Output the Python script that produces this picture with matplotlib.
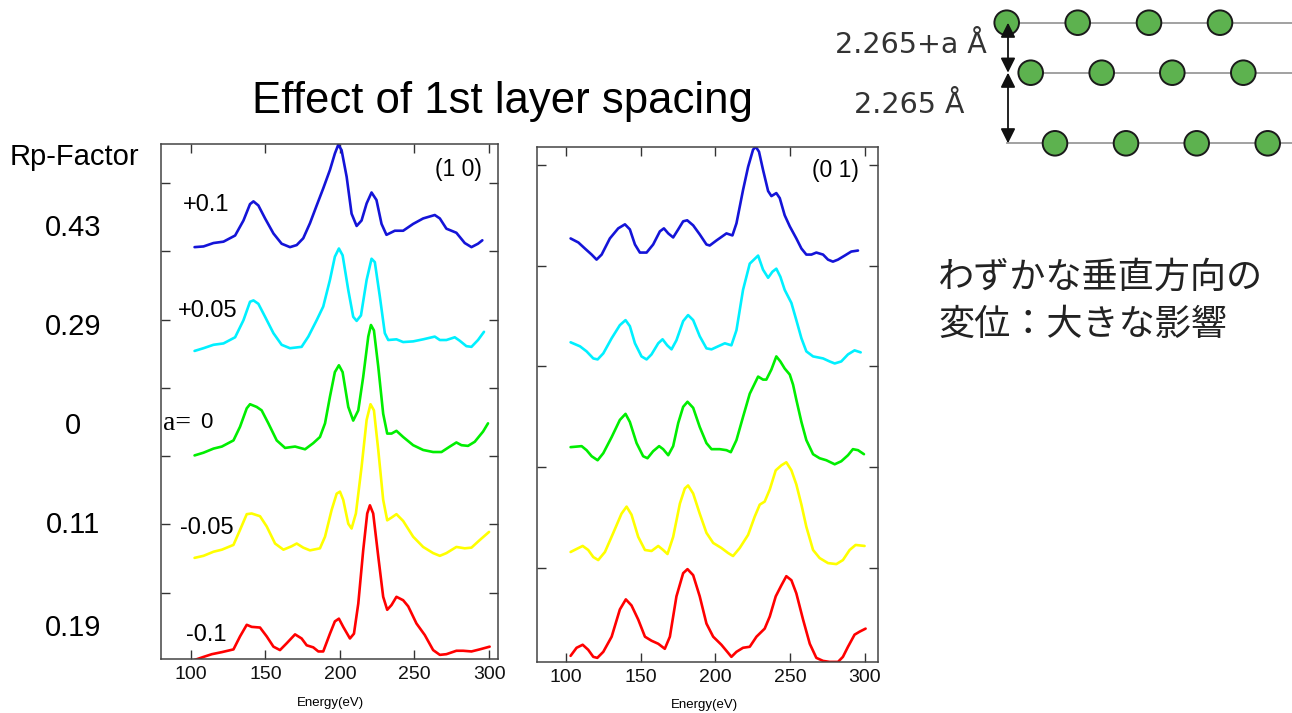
import matplotlib
matplotlib.use("Agg")
import matplotlib.pyplot as plt
from matplotlib.patches import Circle

plt.rcParams["font.family"] = ["Liberation Sans", "Noto Sans CJK JP", "DejaVu Sans"]

W, H = 1292, 713

# ---- data: LEED I(V) curves, energies (eV) and offset intensities (arb.) ----
labels = ["+0.1", "+0.05", "a=0", "-0.05", "-0.1"]
rp_factors = ["0.43", "0.29", "0", "0.11", "0.19"]
colors = ["#1414D8", "#00F0FF", "#00EE00", "#FFFF00", "#FF0000"]
energy_ticks = [100, 150, 200, 250, 300]

# (1 0) beam
e10_p010 = [102.5, 108.5, 115.2, 121.9, 129.7, 135.3, 139.7, 142.0, 145.3, 149.8, 155.4, 160.9, 166.5,
            171.0, 175.4, 179.9, 184.4, 188.8, 193.3, 196.6, 198.9, 201.1, 204.5, 207.8, 211.2, 214.5,
            217.9, 221.2, 224.5, 227.9, 231.2, 236.8, 242.4, 249.1, 255.8, 263.6, 267.0, 271.4, 274.8,
            278.1, 283.7, 288.2, 292.6, 295.5]
i10_p010 = [6.06, 6.07, 6.12, 6.14, 6.23, 6.45, 6.69, 6.73, 6.67, 6.48, 6.26, 6.11, 6.06, 6.09, 6.19,
            6.41, 6.67, 6.92, 7.19, 7.43, 7.56, 7.48, 7.09, 6.55, 6.37, 6.45, 6.70, 6.86, 6.75, 6.40,
            6.24, 6.30, 6.30, 6.40, 6.48, 6.53, 6.48, 6.33, 6.30, 6.27, 6.12, 6.06, 6.11, 6.16]
e10_p005 = [102.5, 108.5, 115.2, 121.9, 129.7, 135.3, 139.7, 142.0, 145.3, 149.8, 155.4, 160.9, 166.5,
            174.3, 178.8, 184.4, 188.8, 193.3, 196.6, 199.3, 201.8, 205.6, 208.9, 211.2, 214.1, 217.9,
            221.2, 223.4, 226.8, 230.1, 232.4, 237.9, 242.4, 249.1, 255.8, 263.6, 267.0, 271.4, 277.0,
            280.3, 284.8, 288.2, 292.6, 296.6]
i10_p005 = [4.54, 4.58, 4.63, 4.65, 4.74, 4.99, 5.26, 5.28, 5.23, 5.04, 4.80, 4.63, 4.58, 4.60, 4.75,
            4.99, 5.19, 5.58, 5.92, 6.04, 5.94, 5.43, 5.04, 4.98, 5.06, 5.58, 5.89, 5.84, 5.33, 4.80,
            4.70, 4.71, 4.67, 4.68, 4.71, 4.75, 4.70, 4.70, 4.74, 4.69, 4.61, 4.60, 4.70, 4.82]
e10_zero = [102.5, 108.5, 115.2, 120.8, 128.6, 133.0, 137.5, 139.7, 144.2, 147.5, 152.0, 157.6, 163.2,
            169.9, 176.6, 182.1, 186.6, 190.0, 193.3, 196.6, 199.3, 201.8, 205.6, 208.9, 212.3, 215.6,
            219.0, 220.8, 222.8, 225.7, 229.0, 231.7, 234.6, 237.9, 242.4, 249.1, 255.8, 262.5, 268.1,
            273.7, 278.1, 281.5, 285.9, 290.4, 296.0, 299.3]
i10_zero = [3.01, 3.05, 3.11, 3.14, 3.23, 3.43, 3.70, 3.76, 3.72, 3.67, 3.48, 3.23, 3.12, 3.14, 3.10,
            3.19, 3.28, 3.48, 3.87, 4.23, 4.33, 4.23, 3.72, 3.52, 3.67, 4.16, 4.75, 4.92, 4.84, 4.31,
            3.62, 3.33, 3.33, 3.37, 3.28, 3.16, 3.09, 3.06, 3.06, 3.14, 3.20, 3.16, 3.15, 3.21, 3.36, 3.48]
e10_m005 = [102.5, 108.5, 115.2, 120.8, 128.6, 133.0, 137.5, 140.8, 146.4, 150.9, 156.5, 162.1, 167.6,
            171.0, 175.4, 179.9, 186.6, 190.0, 194.4, 197.8, 200.0, 202.2, 205.6, 207.8, 210.7, 214.5,
            217.9, 220.5, 222.8, 225.7, 229.0, 231.7, 234.6, 237.9, 242.4, 249.1, 255.8, 262.5, 267.0,
            271.4, 278.1, 283.7, 288.2, 293.7, 300.0]
i10_m005 = [1.51, 1.54, 1.60, 1.63, 1.70, 1.92, 2.15, 2.16, 2.12, 1.97, 1.72, 1.63, 1.68, 1.72, 1.66,
            1.62, 1.65, 1.82, 2.21, 2.45, 2.48, 2.36, 2.01, 1.94, 2.16, 2.84, 3.53, 3.76, 3.67, 3.09,
            2.36, 2.06, 2.10, 2.15, 2.05, 1.82, 1.67, 1.58, 1.54, 1.58, 1.67, 1.65, 1.66, 1.77, 1.89]
e10_m010 = [102.5, 108.5, 114.1, 120.8, 128.6, 133.0, 137.5, 140.8, 146.4, 150.9, 155.4, 159.8, 164.3,
            169.9, 174.3, 177.7, 182.1, 185.5, 188.8, 193.3, 196.6, 199.3, 202.2, 206.7, 209.4, 212.3,
            215.6, 218.3, 220.1, 222.3, 225.7, 229.0, 231.7, 234.6, 237.9, 242.4, 245.8, 251.3, 256.9,
            262.5, 267.0, 271.4, 278.1, 282.6, 288.2, 293.7, 300.4]
i10_m010 = [0.015, 0.06, 0.10, 0.13, 0.17, 0.36, 0.53, 0.50, 0.49, 0.36, 0.21, 0.16, 0.26, 0.39, 0.33,
            0.23, 0.20, 0.14, 0.14, 0.40, 0.58, 0.62, 0.50, 0.33, 0.40, 0.84, 1.62, 2.16, 2.28, 2.16,
            1.53, 0.94, 0.75, 0.82, 0.94, 0.89, 0.80, 0.55, 0.38, 0.16, 0.09, 0.10, 0.15, 0.15, 0.14,
            0.17, 0.21]

# (0 1) beam
e01_p010 = [103.1, 108.3, 112.7, 117.2, 120.5, 123.9, 129.4, 135.0, 139.5, 142.8, 146.2, 149.5, 154.0,
            158.4, 162.9, 165.6, 168.5, 171.8, 175.2, 178.5, 181.2, 185.2, 189.6, 194.1, 196.3, 200.8,
            207.5, 211.5, 214.2, 218.6, 222.0, 225.3, 227.1, 229.3, 232.0, 235.4, 237.6, 240.9, 243.2,
            246.5, 249.9, 254.3, 257.7, 261.0, 264.4, 267.7, 272.2, 275.5, 278.8, 282.2, 286.7, 291.1,
            295.6]
i01_p010 = [4.27, 4.23, 4.17, 4.11, 4.06, 4.11, 4.27, 4.37, 4.41, 4.36, 4.21, 4.13, 4.13, 4.21, 4.34,
            4.37, 4.32, 4.28, 4.36, 4.44, 4.45, 4.40, 4.31, 4.21, 4.20, 4.25, 4.32, 4.30, 4.42, 4.75,
            4.98, 5.15, 5.18, 5.13, 4.95, 4.74, 4.69, 4.72, 4.67, 4.50, 4.39, 4.27, 4.17, 4.11, 4.11,
            4.13, 4.11, 4.06, 4.04, 4.06, 4.10, 4.14, 4.15]
e01_p005 = [103.1, 109.4, 113.8, 118.3, 121.2, 125.0, 130.6, 136.1, 139.9, 142.8, 146.2, 150.6, 154.0,
            157.3, 161.8, 164.7, 167.8, 170.7, 174.0, 178.5, 181.8, 185.2, 189.6, 194.1, 197.5, 201.9,
            206.4, 210.8, 214.2, 218.6, 223.1, 228.7, 232.0, 235.4, 238.3, 240.9, 243.6, 246.5, 251.0,
            254.3, 257.7, 261.0, 265.5, 272.2, 276.6, 280.0, 284.4, 288.9, 293.3, 297.4]
i01_p005 = [3.24, 3.20, 3.15, 3.08, 3.07, 3.13, 3.28, 3.41, 3.46, 3.40, 3.23, 3.10, 3.07, 3.12, 3.23,
            3.27, 3.21, 3.17, 3.26, 3.45, 3.51, 3.46, 3.30, 3.18, 3.17, 3.20, 3.23, 3.21, 3.36, 3.76,
            4.02, 4.10, 3.96, 3.88, 3.94, 3.97, 3.89, 3.76, 3.63, 3.46, 3.28, 3.15, 3.10, 3.08, 3.05,
            3.03, 3.05, 3.12, 3.16, 3.14]
e01_zero = [103.1, 110.5, 113.8, 117.2, 121.2, 125.0, 130.6, 136.1, 139.9, 142.8, 147.3, 151.7, 154.6,
            158.4, 162.4, 165.1, 168.5, 171.8, 175.2, 178.5, 181.4, 185.2, 189.6, 194.1, 197.5, 203.0,
            207.5, 210.4, 214.2, 218.6, 223.1, 228.7, 232.0, 234.2, 237.6, 240.9, 243.6, 246.5, 249.9,
            252.1, 254.3, 257.7, 261.0, 265.5, 269.9, 274.4, 280.0, 284.4, 288.9, 292.2, 295.6, 299.6]
i01_zero = [2.20, 2.21, 2.17, 2.11, 2.07, 2.14, 2.30, 2.47, 2.53, 2.45, 2.24, 2.11, 2.09, 2.16, 2.21,
            2.18, 2.12, 2.21, 2.44, 2.60, 2.65, 2.59, 2.40, 2.24, 2.18, 2.18, 2.17, 2.15, 2.27, 2.50,
            2.73, 2.90, 2.87, 2.87, 2.97, 3.10, 3.05, 2.98, 2.92, 2.82, 2.67, 2.45, 2.27, 2.13, 2.09,
            2.07, 2.03, 2.06, 2.12, 2.18, 2.17, 2.13]
e01_m005 = [103.1, 107.1, 111.2, 114.9, 118.3, 121.6, 126.1, 131.7, 137.2, 140.6, 143.9, 148.4, 152.9,
            157.3, 161.8, 165.1, 168.0, 171.8, 176.3, 179.6, 181.8, 185.2, 189.6, 194.1, 198.6, 204.1,
            208.6, 211.9, 216.4, 222.0, 226.4, 229.8, 233.1, 236.5, 240.5, 244.3, 247.6, 251.0, 254.3,
            257.7, 261.0, 265.5, 269.9, 275.5, 281.1, 285.5, 290.0, 294.0, 300.0]
i01_m005 = [1.16, 1.19, 1.22, 1.18, 1.11, 1.08, 1.16, 1.35, 1.54, 1.61, 1.53, 1.31, 1.18, 1.17, 1.22,
            1.18, 1.14, 1.31, 1.64, 1.79, 1.82, 1.74, 1.54, 1.35, 1.25, 1.20, 1.15, 1.12, 1.20, 1.33,
            1.51, 1.63, 1.66, 1.78, 1.97, 2.02, 2.05, 1.97, 1.83, 1.63, 1.41, 1.18, 1.10, 1.05, 1.04,
            1.08, 1.18, 1.23, 1.22]
e01_m010 = [103.1, 107.1, 111.2, 114.9, 118.3, 121.0, 125.0, 130.6, 136.1, 140.1, 143.9, 148.4, 152.9,
            157.3, 161.8, 166.2, 169.6, 174.0, 178.5, 181.4, 185.2, 189.6, 194.1, 198.6, 204.1, 208.6,
            210.8, 214.2, 218.6, 223.1, 227.6, 233.1, 236.5, 240.5, 244.3, 247.6, 251.0, 254.3, 258.8,
            263.3, 267.7, 272.2, 276.6, 282.2, 285.5, 288.9, 293.3, 296.7, 300.7]
i01_m010 = [0.13, 0.21, 0.24, 0.19, 0.12, 0.11, 0.17, 0.32, 0.59, 0.69, 0.63, 0.49, 0.32, 0.28, 0.25,
            0.20, 0.32, 0.72, 0.95, 0.99, 0.93, 0.72, 0.45, 0.32, 0.24, 0.16, 0.12, 0.17, 0.21, 0.22,
            0.32, 0.40, 0.52, 0.72, 0.83, 0.92, 0.88, 0.75, 0.49, 0.25, 0.11, 0.08, 0.07, 0.07, 0.12,
            0.22, 0.34, 0.37, 0.40]

curves_10 = [(e10_p010, i10_p010), (e10_p005, i10_p005), (e10_zero, i10_zero),
             (e10_m005, i10_m005), (e10_m010, i10_m010)]
curves_01 = [(e01_p010, i01_p010), (e01_p005, i01_p005), (e01_zero, i01_zero),
             (e01_m005, i01_m005), (e01_m010, i01_m010)]


def fig_xy(x, y):
    """pixel (top-left origin) -> figure fraction"""
    return x / W, 1 - y / H


def setup_axes(ax, xlim, ylim, yticks):
    ax.set_xlim(*xlim)
    ax.set_ylim(*ylim)
    ax.set_xticks(energy_ticks)
    ax.set_yticks(yticks)
    ax.set_yticklabels([])
    ax.tick_params(direction="in", length=6.5, width=1, color="#333333",
                   top=True, right=True, labelsize=14, pad=5, labelcolor="#111111")
    for sp in ax.spines.values():
        sp.set_color("#444444")
        sp.set_linewidth(1.1)


fig = plt.figure(figsize=(W / 100, H / 100), dpi=100)

ax_l = fig.add_axes([161 / W, 1 - 659.3 / H, 337 / W, 515.3 / H])
ax_r = fig.add_axes([537 / W, 1 - 662.3 / H, 341 / W, 515.6 / H])

for (e, i), c in zip(curves_10, colors):
    ax_l.plot(e, i, color=c, lw=1.9, solid_joinstyle="round", solid_capstyle="round")
for (e, i), c in zip(curves_01, colors):
    ax_r.plot(e, i, color=c, lw=1.9, solid_joinstyle="round", solid_capstyle="round")

setup_axes(ax_l, (80, 306), (0.025, 7.57), [1, 2, 3, 4, 5, 6, 7])
setup_axes(ax_r, (80.6, 309), (0.066, 5.18), [1, 2, 3, 4, 5])

ax_l.text(0.884, 0.95, "(1 0)", transform=ax_l.transAxes, ha="center", va="center",
          fontsize=16.5, family="Liberation Sans")
ax_r.text(0.874, 0.953, "(0 1)", transform=ax_r.transAxes, ha="center", va="center",
          fontsize=16.5, family="Liberation Sans")

fig.text(*fig_xy(330, 703), "Energy(eV)", ha="center", va="center", fontsize=9.5)
fig.text(*fig_xy(704, 705), "Energy(eV)", ha="center", va="center", fontsize=9.5)

# title and Rp-factor column
fig.text(*fig_xy(502, 102), "Effect of 1st layer spacing", ha="center", va="center", fontsize=31.5)
fig.text(*fig_xy(74, 157), "Rp-Factor", ha="center", va="center", fontsize=21)
label_y = [205, 311, 423, 528, 635]
label_x = [206, 208, 188, 207, 206]
rp_y = [228, 327, 426, 525, 628]
for lab, lx, ly, rp, ry in zip(labels, label_x, label_y, rp_factors, rp_y):
    fig.text(*fig_xy(73, ry), rp, ha="center", va="center", fontsize=21)
    if lab.startswith("a"):
        # "a=" in a serif face, the digit in sans, as on the slide
        fig.text(*fig_xy(163, ly + 1), lab[:2], ha="left", va="center", fontsize=20,
                 family="Liberation Serif")
        fig.text(*fig_xy(213, ly), lab[2:], ha="right", va="center", fontsize=16)
    else:
        fig.text(*fig_xy(lx, ly), lab, ha="center", va="center", fontsize=17)

# Japanese note
fig.text(*fig_xy(938, 278), "わずかな垂直方向の", ha="left", va="center", fontsize=26,
         family=["Noto Sans CJK JP"], color="#222222")
fig.text(*fig_xy(938, 325), "変位：大きな影響", ha="left", va="center", fontsize=26,
         family=["Noto Sans CJK JP"], color="#222222")

# layer spacing sketch (pixel coordinates overlay)
ov = fig.add_axes([0, 0, 1, 1], facecolor="none")
ov.set_xlim(0, W)
ov.set_ylim(H, 0)
ov.axis("off")

layer_y = [22.7, 72.7, 143.3]
layer_start = [1007, 1020, 1007]
atom_x = [[1006.7, 1077.7, 1149, 1220],
          [1030.7, 1101.7, 1172.3, 1243.3],
          [1055, 1126, 1196.7, 1267.7]]
for ly, lx0, xs in zip(layer_y, layer_start, atom_x):
    ov.plot([lx0, W], [ly, ly], color="#9a9a9a", lw=1.3, zorder=1)
    for x in xs:
        ov.add_patch(Circle((x, ly), 12.3, facecolor="#5DB24F", edgecolor="#1a1a1a", lw=1.4, zorder=2))

for y0, y1 in [(layer_y[0], layer_y[1]), (layer_y[1], layer_y[2])]:
    ov.annotate("", xy=(1008, y1), xytext=(1008, y0),
                arrowprops=dict(arrowstyle="<|-|>", color="#111111", lw=1.3,
                                mutation_scale=22, shrinkA=0, shrinkB=0), zorder=3)
ov.text(911, 45, "2.265+a Å", ha="center", va="center", fontsize=20.5, family="DejaVu Sans",
        color="#333333")
ov.text(909, 105, "2.265 Å", ha="center", va="center", fontsize=20.5, family="DejaVu Sans",
        color="#333333")

fig.savefig("out.png", dpi=100)
